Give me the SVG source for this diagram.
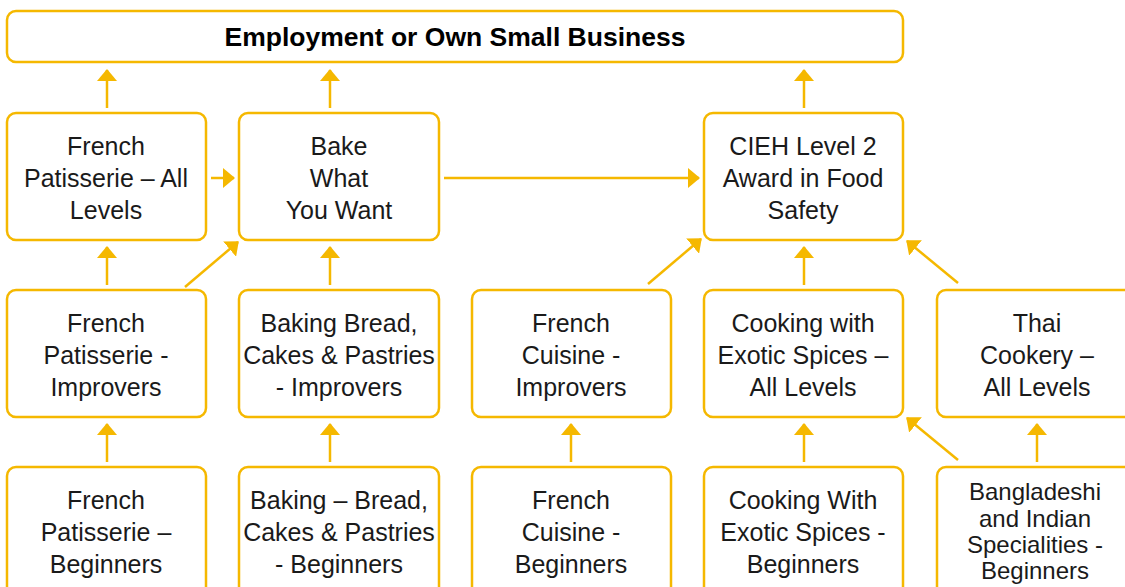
<svg xmlns="http://www.w3.org/2000/svg" width="1125" height="587" viewBox="0 0 1125 587">
<style>
.box{fill:#fff;stroke:#F5B800;stroke-width:2.5}
.t{font-family:"Liberation Sans",Arial,sans-serif;font-size:25px;fill:#1a1a1a;text-anchor:middle}
.ts{font-size:24px}
.tb{font-family:"Liberation Sans",Arial,sans-serif;font-size:26.5px;font-weight:bold;fill:#000;text-anchor:middle}
.c{stroke:#F5B800;stroke-width:2.5;fill:none;marker-end:url(#ah)}
</style>
<defs>
<marker id="ah" markerUnits="userSpaceOnUse" markerWidth="12" markerHeight="20" viewBox="0 0 12 20" refX="11" refY="10" orient="auto">
<path d="M0,0 L12,10 L0,20 z" fill="#F5B800"/>
</marker>
</defs>
<g id="connectors">
<line class="c" x1="107" y1="108" x2="107" y2="70"/>
<line class="c" x1="330" y1="108" x2="330" y2="70"/>
<line class="c" x1="804" y1="108" x2="804" y2="70"/>
<line class="c" x1="211" y1="178" x2="234" y2="178"/>
<line class="c" x1="444" y1="178" x2="699" y2="178"/>
<line class="c" x1="107" y1="285" x2="107" y2="247"/>
<line class="c" x1="330" y1="285" x2="330" y2="247"/>
<line class="c" x1="804" y1="285" x2="804" y2="247"/>
<line class="c" x1="185" y1="287" x2="238" y2="242"/>
<line class="c" x1="648" y1="284" x2="701" y2="239"/>
<line class="c" x1="958" y1="283" x2="907" y2="241"/>
<line class="c" x1="107" y1="462" x2="107" y2="424"/>
<line class="c" x1="330" y1="462" x2="330" y2="424"/>
<line class="c" x1="571" y1="462" x2="571" y2="424"/>
<line class="c" x1="804" y1="462" x2="804" y2="424"/>
<line class="c" x1="1037" y1="462" x2="1037" y2="424"/>
<line class="c" x1="958" y1="460" x2="907" y2="418"/>
</g>
<g id="top"><rect class="box" x="7" y="11" width="896" height="51" rx="9"/><text class="tb" x="455" y="46">Employment or Own Small Business</text></g>
<g id="fp-all"><rect class="box" x="7" y="113" width="199" height="127" rx="9"/><text class="t" x="106" y="155">French</text><text class="t" x="106" y="187">Patisserie – All</text><text class="t" x="106" y="219">Levels</text></g>
<g id="bake"><rect class="box" x="239" y="113" width="200" height="127" rx="9"/><text class="t" x="339" y="155">Bake</text><text class="t" x="339" y="187">What</text><text class="t" x="339" y="219">You Want</text></g>
<g id="cieh"><rect class="box" x="704" y="113" width="199" height="127" rx="9"/><text class="t" x="803" y="155">CIEH Level 2</text><text class="t" x="803" y="187">Award in Food</text><text class="t" x="803" y="219">Safety</text></g>
<g id="fp-imp"><rect class="box" x="7" y="290" width="199" height="127" rx="9"/><text class="t" x="106" y="332">French</text><text class="t" x="106" y="364">Patisserie -</text><text class="t" x="106" y="396">Improvers</text></g>
<g id="bb-imp"><rect class="box" x="239" y="290" width="200" height="127" rx="9"/><text class="t" x="339" y="332">Baking Bread,</text><text class="t" x="339" y="364">Cakes &amp; Pastries</text><text class="t" x="339" y="396">- Improvers</text></g>
<g id="fc-imp"><rect class="box" x="472" y="290" width="199" height="127" rx="9"/><text class="t" x="571" y="332">French</text><text class="t" x="571" y="364">Cuisine -</text><text class="t" x="571" y="396">Improvers</text></g>
<g id="ces-all"><rect class="box" x="704" y="290" width="199" height="127" rx="9"/><text class="t" x="803" y="332">Cooking with</text><text class="t" x="803" y="364">Exotic Spices –</text><text class="t" x="803" y="396">All Levels</text></g>
<g id="thai"><rect class="box" x="937" y="290" width="200" height="127" rx="9"/><text class="t" x="1037" y="332">Thai</text><text class="t" x="1037" y="364">Cookery –</text><text class="t" x="1037" y="396">All Levels</text></g>
<g id="fp-beg"><rect class="box" x="7" y="467" width="199" height="130" rx="9"/><text class="t" x="106" y="509">French</text><text class="t" x="106" y="541">Patisserie –</text><text class="t" x="106" y="573">Beginners</text></g>
<g id="bb-beg"><rect class="box" x="239" y="467" width="200" height="130" rx="9"/><text class="t" x="339" y="509">Baking – Bread,</text><text class="t" x="339" y="541">Cakes &amp; Pastries</text><text class="t" x="339" y="573">- Beginners</text></g>
<g id="fc-beg"><rect class="box" x="472" y="467" width="199" height="130" rx="9"/><text class="t" x="571" y="509">French</text><text class="t" x="571" y="541">Cuisine -</text><text class="t" x="571" y="573">Beginners</text></g>
<g id="ces-beg"><rect class="box" x="704" y="467" width="199" height="130" rx="9"/><text class="t" x="803" y="509">Cooking With</text><text class="t" x="803" y="541">Exotic Spices -</text><text class="t" x="803" y="573">Beginners</text></g>
<g id="bang"><rect class="box" x="937" y="467" width="200" height="130" rx="9"/><text class="t ts" x="1035" y="500">Bangladeshi</text><text class="t ts" x="1035" y="527">and Indian</text><text class="t ts" x="1035" y="553">Specialities -</text><text class="t ts" x="1035" y="579">Beginners</text></g>
</svg>
